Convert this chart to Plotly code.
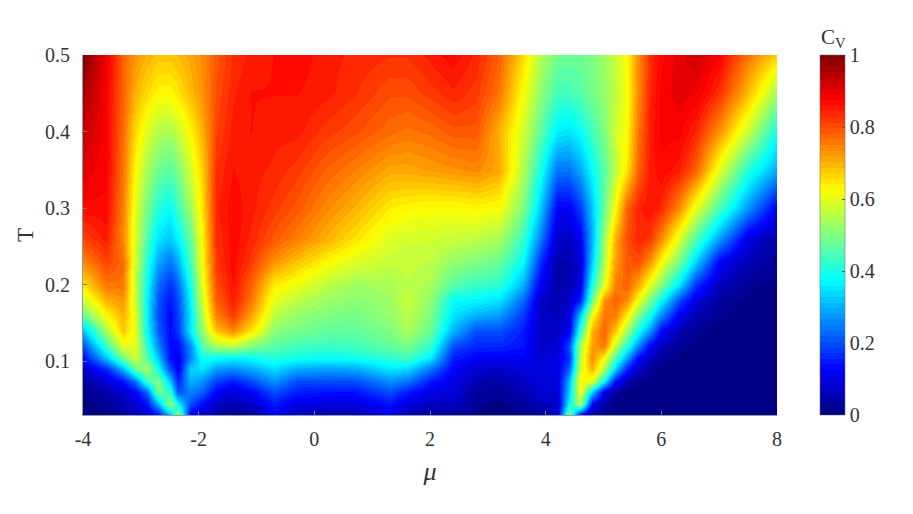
import plotly.graph_objects as go
from plotly.colors import sample_colorscale

mu = [-4, -3.6, -3.3, -3.1, -2.9, -2.7, -2.5, -2.35, -2.15, -1.95, -1.7, -1.4, -1.1,
      -0.7, -0.3, 0.2, 0.7, 1.3, 1.6, 2, 2.4, 2.8, 3.2, 3.6, 3.9,
      4.2, 4.4, 4.6, 4.8, 5, 5.2, 5.4, 5.6, 5.8, 6, 6.3, 6.6, 7, 7.5, 8]
T = [0.03, 0.045, 0.06, 0.075, 0.09, 0.105, 0.12, 0.14, 0.16, 0.18, 0.2, 0.23, 0.26, 0.3, 0.35, 0.4, 0.45, 0.5]

cv_030 = [0, .01, .03, .05, .08, .14, .3, .52, .12, .08, .04, .01, .02,
          .12, .06, .05, .05, .1, .05, .03, .03, .01, 0, .01, .03,
          .08, .5, .12, .03, .01, 0, 0, 0, 0, 0, 0, 0, 0, 0, 0]
cv_045 = [0, .02, .05, .08, .14, .3, .53, .38, .2, .13, .07, .05, .07,
          .15, .1, .09, .09, .14, .09, .06, .07, .02, .01, .03, .06,
          .06, .38, .55, .12, .04, .01, 0, 0, 0, 0, 0, 0, 0, 0, 0]
cv_060 = [.01, .04, .08, .12, .22, .5, .42, .2, .25, .22, .12, .09, .12,
          .2, .15, .14, .14, .2, .15, .1, .09, .03, .02, .05, .08,
          .08, .33, .62, .33, .1, .03, .01, 0, 0, 0, 0, 0, 0, 0, 0]
cv_075 = [.03, .08, .14, .24, .44, .5, .32, .15, .3, .27, .19, .15, .2,
          .27, .2, .2, .2, .27, .24, .15, .1, .05, .04, .07, .09,
          .09, .3, .64, .6, .38, .14, .05, .02, .01, 0, 0, 0, 0, 0, 0]
cv_090 = [.07, .16, .3, .47, .54, .39, .2, .11, .33, .35, .28, .26, .29,
          .34, .29, .28, .29, .35, .34, .24, .12, .08, .07, .09, .09,
          .1, .22, .58, .7, .55, .33, .15, .07, .03, .01, 0, 0, 0, 0, 0]
cv_105 = [.13, .31, .49, .58, .46, .32, .14, .11, .25, .39, .38, .36, .38,
          .41, .39, .38, .39, .42, .44, .36, .15, .12, .11, .12, .08,
          .09, .17, .56, .74, .62, .45, .28, .125, .06, .03, .01, 0, 0, 0, 0]
cv_120 = [.2, .43, .6, .6, .42, .26, .13, .13, .26, .46, .54, .56, .5,
          .46, .44, .43, .44, .47, .49, .43, .2, .16, .16, .14, .07,
          .08, .2, .54, .72, .76, .57, .41, .26, .12, .06, .02, .01, 0, 0, 0]
cv_140 = [.31, .54, .68, .6, .38, .22, .13, .18, .36, .52, .68, .74, .65,
          .51, .49, .47, .47, .5, .54, .48, .3, .2, .2, .15, .07,
          .07, .11, .42, .7, .78, .68, .53, .39, .27, .125, .05, .02, 0, 0, 0]
cv_160 = [.48, .63, .7, .6, .36, .2, .13, .19, .35, .55, .75, .82, .72,
          .56, .52, .5, .49, .52, .56, .5, .35, .3, .28, .18, .07,
          .06, .09, .32, .62, .76, .76, .64, .5, .39, .26, .11, .05, .02, 0, 0]
cv_180 = [.57, .7, .73, .57, .37, .21, .14, .2, .37, .58, .78, .85, .76,
          .6, .56, .53, .51, .53, .57, .52, .38, .37, .35, .23, .07,
          .05, .07, .15, .48, .73, .78, .74, .62, .49, .38, .2, .09, .03, .01, 0]
cv_200 = [.65, .76, .76, .57, .38, .23, .17, .23, .39, .6, .8, .86, .78,
          .64, .61, .56, .53, .54, .56, .54, .46, .43, .42, .3, .11,
          .04, .05, .1, .4, .6, .75, .78, .71, .6, .5, .35, .17, .06, .02, .01]
cv_230 = [.74, .81, .77, .58, .41, .29, .24, .3, .44, .62, .82, .87, .82,
          .73, .68, .63, .59, .57, .57, .56, .52, .5, .48, .38, .17,
          .04, .05, .08, .33, .55, .72, .79, .8, .73, .62, .49, .33, .12, .05, .02]
cv_260 = [.81, .85, .74, .59, .45, .35, .32, .37, .47, .63, .83, .87, .84,
          .79, .75, .7, .65, .59, .58, .58, .57, .56, .54, .43, .25,
          .07, .07, .11, .3, .53, .7, .8, .84, .82, .74, .59, .45, .28, .09, .04]
cv_300 = [.87, .87, .75, .6, .49, .41, .38, .44, .53, .65, .84, .87, .85,
          .82, .79, .74, .7, .64, .63, .62, .62, .63, .62, .5, .33,
          .12, .12, .18, .32, .48, .62, .78, .84, .86, .84, .74, .6, .45, .27, .11]
cv_350 = [.9, .88, .76, .63, .54, .48, .46, .5, .58, .67, .83, .86, .85,
          .84, .82, .78, .75, .71, .71, .72, .73, .74, .71, .55, .4,
          .24, .24, .29, .38, .46, .56, .65, .78, .85, .87, .85, .78, .6, .41, .29]
cv_400 = [.93, .88, .77, .66, .59, .55, .54, .57, .63, .7, .81, .85, .86,
          .85, .85, .82, .8, .77, .76, .77, .79, .79, .7, .58, .47,
          .36, .35, .38, .44, .5, .58, .63, .76, .85, .88, .88, .84, .73, .57, .39]
cv_450 = [.96, .88, .78, .7, .66, .63, .63, .65, .69, .73, .8, .84, .86,
          .86, .86, .85, .83, .8, .8, .82, .84, .82, .76, .62, .52,
          .44, .44, .46, .49, .52, .56, .62, .74, .84, .88, .9, .89, .83, .69, .53]
cv_500 = [1.0, .89, .78, .73, .7, .68, .68, .69, .71, .74, .79, .83, .85,
          .86, .87, .85, .84, .83, .83, .85, .87, .84, .78, .66, .55,
          .49, .48, .48, .5, .53, .57, .63, .74, .83, .87, .9, .92, .88, .76, .67]

cv = [cv_030, cv_045, cv_060, cv_075, cv_090, cv_105, cv_120, cv_140, cv_160, cv_180,
      cv_200, cv_230, cv_260, cv_300, cv_350, cv_400, cv_450, cv_500]

# matlab jet, cut into 64 flat steps like the contourf bands
jet = [[0, "rgb(0,0,127)"], [0.125, "rgb(0,0,255)"], [0.375, "rgb(0,255,255)"],
       [0.625, "rgb(255,255,0)"], [0.875, "rgb(255,0,0)"], [1, "rgb(127,0,0)"]]
n = 64
steps = sample_colorscale(jet, [(i + 0.5) / n for i in range(n)])
bands = []
for i, c in enumerate(steps):
    bands.append([i / n, c])
    bands.append([(i + 1) / n, c])

font = "Liberation Serif"
ink = "#333333"

fig = go.Figure(go.Heatmap(
    x=mu, y=T, z=cv, zmin=0, zmax=1,
    colorscale=bands, zsmooth="best",
    colorbar=dict(
        x=1.062, xanchor="left", xpad=0, y=0, yanchor="bottom", ypad=0, len=1,
        thickness=25, outlinewidth=0.5, outlinecolor="#666666",
        tickvals=[0, 0.2, 0.4, 0.6, 0.8, 1], ticktext=["0", "0.2", "0.4", "0.6", "0.8", "1"],
        ticks="inside", ticklen=3, tickcolor="#555555", tickfont=dict(family=font, size=20, color=ink),
    ),
))

# the page has an 8px body margin, so the figure is a bit smaller than the window
fig.update_layout(
    width=900, height=500,
    margin=dict(l=75, r=131, t=47, b=93),
    paper_bgcolor="white", plot_bgcolor="white",
    font=dict(family=font, size=20, color=ink),
)
fig.update_xaxes(
    range=[-4, 8], tickvals=[-4, -2, 0, 2, 4, 6, 8], ticktext=["-4", "-2", "0", "2", "4", "6", "8"],
    ticks="inside", ticklen=4, tickcolor="#777777", showgrid=False, zeroline=False,
    showline=True, linecolor="#999999", linewidth=1, ticklabelstandoff=6,
    title=dict(text="<i>μ</i>", font=dict(family=font, size=26, color=ink), standoff=12),
)
fig.update_yaxes(
    range=[0.03, 0.5], tickvals=[0.1, 0.2, 0.3, 0.4, 0.5], ticktext=["0.1", "0.2", "0.3", "0.4", "0.5"],
    ticks="inside", ticklen=4, tickcolor="#777777", showgrid=False, zeroline=False,
    showline=True, linecolor="#999999", linewidth=1, ticklabelstandoff=8,
    title=dict(text="T", font=dict(family=font, size=23, color=ink), standoff=4),
)
fig.add_annotation(
    text="C<sub>V</sub>", xref="paper", yref="paper", x=1.081, y=1.0, yanchor="bottom", xanchor="center",
    showarrow=False, font=dict(family=font, size=21, color=ink), yshift=2,
)

fig.write_html("out.html")
